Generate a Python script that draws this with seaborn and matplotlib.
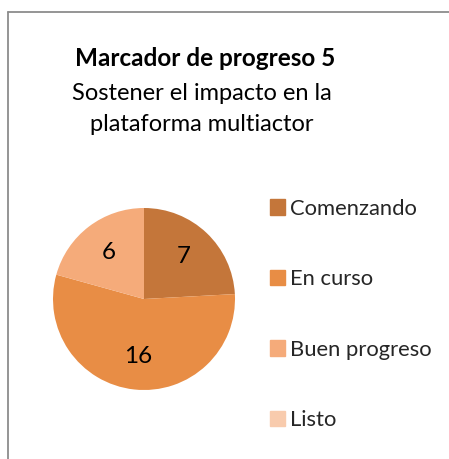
import numpy as np
import seaborn as sns
import matplotlib.pyplot as plt
from matplotlib.lines import Line2D

# datos
categorias = ["Comenzando", "En curso", "Buen progreso", "Listo"]
valores = [7, 16, 6, 0]
colores = ["#C4763A", "#E88D45", "#F5AB7A", "#F8CBAD"]

sns.set_theme(style="white")
plt.rcParams["font.family"] = ["Lato", "DejaVu Sans"]

W, H = 449, 459
fig = plt.figure(figsize=(W / 100, H / 100), dpi=100)

# marco gris (recortado a la derecha y abajo)
fig.add_artist(Line2D([7.5 / W, 7.5 / W], [0, 1 - 11.5 / H], transform=fig.transFigure,
                      color="#8c8c8c", lw=1.3))
fig.add_artist(Line2D([7.5 / W, 1], [1 - 11.5 / H, 1 - 11.5 / H], transform=fig.transFigure,
                      color="#8c8c8c", lw=1.3))

# titulo
fig.text(205 / W, 1 - 58 / H, "Marcador de progreso 5", ha="center", va="center",
         fontsize=17.5, fontweight="bold", color="black")
fig.text(202 / W, 1 - 93 / H, "Sostener el impacto en la", ha="center", va="center",
         fontsize=17, color="black")
fig.text(202 / W, 1 - 124 / H, "plataforma multiactor", ha="center", va="center",
         fontsize=17, color="black")

# pastel
cx, cy, r = 144, 299, 91
ax = fig.add_axes([(cx - r) / W, (H - cy - r) / H, 2 * r / W, 2 * r / H])
total = sum(valores)
wedges, _, autotexts = ax.pie(
    valores, colors=sns.color_palette(colores), startangle=90, counterclock=False,
    autopct=lambda p: f"{round(p * total / 100)}" if p > 0 else "",
    pctdistance=0.64, wedgeprops=dict(linewidth=0),
    textprops=dict(fontsize=17.5, color="black"))
ax.set_xlim(-1, 1)
ax.set_ylim(-1, 1)
ax.set_aspect("equal")

# leyenda
handles = [plt.Rectangle((0, 0), 1, 1, color=c) for c in colores]
fig.legend(handles, categorias, loc="upper left", bbox_to_anchor=(261 / W, 1 - 190 / H),
           frameon=False, fontsize=15.8, handlelength=0.7, handleheight=0.7,
           handletextpad=0.2, labelspacing=2.3, borderaxespad=0)

fig.savefig("out.png", dpi=100)
